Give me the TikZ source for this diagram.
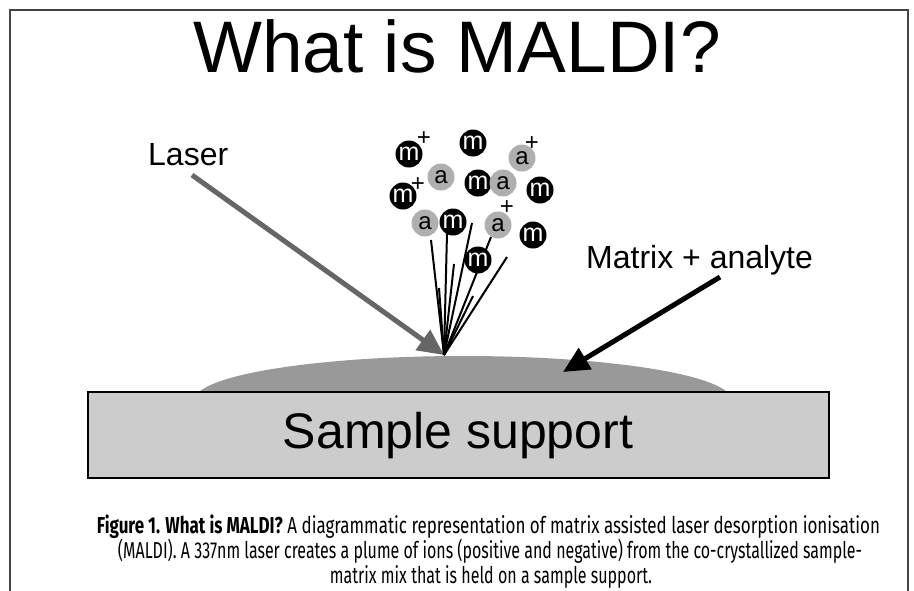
\documentclass[tikz,border=0pt]{standalone}
\usepackage{fontspec}
\setmainfont{Liberation Sans}
\newfontfamily\capfont{Fira Sans}
\usetikzlibrary{arrows.meta}
\definecolor{moundgray}{HTML}{999999}
\definecolor{boxgray}{HTML}{CCCCCC}
\definecolor{iongray}{HTML}{AFAFAF}
\definecolor{lasergray}{HTML}{666666}
\definecolor{framegray}{HTML}{444444}
\tikzset{
  mion/.style={circle, fill=black, text=white, minimum size=27pt, inner sep=0pt, font=\fontsize{25}{25}\selectfont},
  aion/.style={circle, fill=iongray, text=black, minimum size=27pt, inner sep=0pt, font=\fontsize{24}{24}\selectfont},
  plus/.style={inner sep=0pt, font=\fontsize{24}{24}\selectfont},
  plume/.style={line width=2pt, black},
  label/.style={inner sep=0pt, anchor=base west, font=\fontsize{32}{32}\selectfont},
  capline/.style={inner sep=0pt, anchor=base, font=\capfont\fontsize{23}{23}\selectfont},
}
\begin{document}
\begin{tikzpicture}[x=1pt,y=-1pt]
\useasboundingbox (0,0) rectangle (914,590);
% frame
\draw[framegray, line width=2pt] (10,592) -- (10,10) -- (908,10) -- (908,592);
% title
\node[inner sep=0pt, anchor=base, font=\fontsize{73}{73}\selectfont] (title) at (457,72) {What is MALDI?};
% mound
\fill[moundgray] (463,400) ellipse [x radius=268.5, y radius=44];
% sample support
\node[draw=black, line width=1.5pt, fill=boxgray, minimum width=741pt, minimum height=86pt, inner sep=0pt] (support) at (458.5,435) {};
\node[inner sep=0pt, anchor=base, font=\fontsize{50}{50}\selectfont] (supporttext) at (458,448) {Sample support};
% labels
\node[label] (laser) at (148,165) {Laser};
\node[label] (matrix) at (586,268) {Matrix + analyte};
% arrows
\coordinate (base) at (444,355);
\coordinate (laserstart) at (192,175);
\coordinate (matrixstart) at (720,277);
\coordinate (matrixtip) at (563,372);
\draw[lasergray, line width=5pt, -{Triangle[length=26pt,width=24pt]}] (laserstart) -- (base);
\draw[black, line width=5pt, -{Triangle[length=26pt,width=24pt]}] (matrixstart) -- (matrixtip);
% plume lines
\coordinate (p1) at (431,240);
\coordinate (p2) at (439,288);
\coordinate (p3) at (447,233);
\coordinate (p4) at (454,264);
\coordinate (p5) at (472,223);
\coordinate (p6) at (473,296);
\coordinate (p7) at (491,237);
\coordinate (p8) at (507,257);
\foreach \p in {p1,p2,p3,p4,p5,p6,p7,p8} \draw[plume] (base) -- (\p);
% ions
\node[mion] (m1) at (409,154) {m};
\node[plus] (m1p) at (424,139) {+};
\node[mion] (m2) at (473,143) {m};
\node[aion] (a1) at (522,158) {a};
\node[plus] (a1p) at (532,144) {+};
\node[aion] (a2) at (441,177) {a};
\node[mion] (m3) at (478,183) {m};
\node[aion] (a3) at (503,183) {a};
\node[mion] (m4) at (540,190) {m};
\node[mion] (m5) at (403,196) {m};
\node[plus] (m5p) at (418,185) {+};
\node[aion] (a4) at (425,223) {a};
\node[mion] (m6) at (453,222) {m};
\node[aion] (a5) at (498,225) {a};
\node[plus] (a5p) at (507,208) {+};
\node[mion] (m7) at (533,235) {m};
\node[mion] (m8) at (478,260) {m};
% caption
\node[capline] (cap1) at (488.5,533) {\resizebox{783pt}{\height}{{\bfseries Figure 1. What is MALDI?} A diagrammatic representation of matrix assisted laser desorption ionisation}};
\node[capline] (cap2) at (490,558) {\resizebox{744pt}{\height}{(MALDI). A 337nm laser creates a plume of ions (positive and negative) from the co-crystallized sample-}};
\node[capline] (cap3) at (491,583) {\resizebox{322pt}{\height}{matrix mix that is held on a sample support.}};
\end{tikzpicture}
\end{document}
